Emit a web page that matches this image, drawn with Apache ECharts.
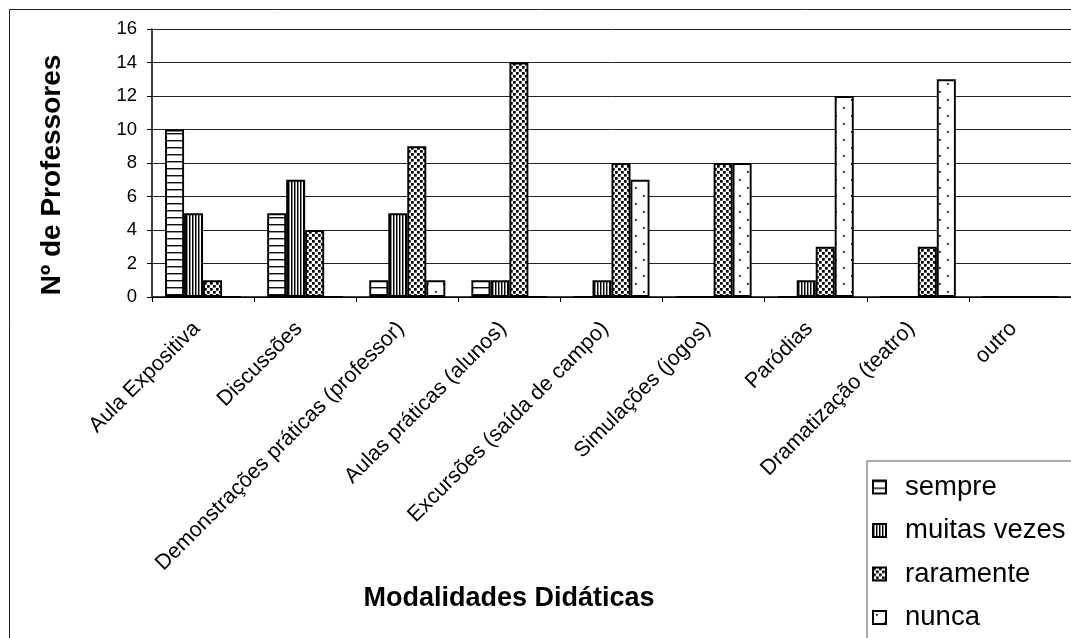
<!DOCTYPE html>
<html>
<head>
<meta charset="utf-8">
<script src="https://cdn.jsdelivr.net/npm/echarts@6/dist/echarts.min.js"></script>
<style>
  html, body { margin: 0; padding: 0; background: #fff; }
  #chart { width: 1071px; height: 638px; }
</style>
</head>
<body>
<div id="chart"></div>
<script>
// Teaching methods used by teachers, by frequency
const categories = [
  'Aula Expositiva',
  'Discussões',
  'Demonstrações práticas (professor)',
  'Aulas práticas (alunos)',
  'Excursões (saída de campo)',
  'Simulações (jogos)',
  'Paródias',
  'Dramatização (teatro)',
  'outro'
];
const seriesNames = ['sempre', 'muitas vezes', 'raramente', 'nunca'];
const sempre      = [10, 5, 1, 1, 0, 0, 0, 0, 0];
const muitasVezes = [5, 7, 5, 1, 1, 0, 1, 0, 0];
const raramente   = [1, 4, 9, 14, 8, 8, 3, 3, 0];
const nunca       = [0, 0, 1, 0, 7, 8, 12, 13, 0];
const yMin = 0, yMax = 16, yStep = 2;
const yTitle = 'Nº de Professores';
const xTitle = 'Modalidades Didáticas';

const FONT = 'Liberation Sans, Arial, Helvetica, sans-serif';

// Monochrome fill patterns for the bars
function makePattern(w, h, draw) {
  const c = document.createElement('canvas');
  c.width = w; c.height = h;
  const ctx = c.getContext('2d');
  ctx.fillStyle = '#fff';
  ctx.fillRect(0, 0, w, h);
  draw(ctx);
  return { image: c, repeat: 'repeat' };
}
const hStripes = makePattern(4, 7, ctx => {
  ctx.fillStyle = '#111'; ctx.fillRect(0, 0, 4, 1);
  ctx.fillStyle = '#999'; ctx.fillRect(0, 1, 4, 1);
});
const vStripes = makePattern(3, 4, ctx => {
  ctx.fillStyle = '#000'; ctx.fillRect(0, 0, 1, 4);
  ctx.fillStyle = '#888'; ctx.fillRect(1, 0, 1, 4);
});
const bigDots = makePattern(6, 6, ctx => {
  ctx.fillStyle = '#000';
  ctx.fillRect(0, 0, 2.7, 2.7);
  ctx.fillRect(3, 3, 2.7, 2.7);
});
const smallDots = makePattern(16, 16, ctx => {
  ctx.fillStyle = '#000';
  ctx.fillRect(3, 3, 1.7, 1.7);
  ctx.fillRect(11, 11, 1.7, 1.7);
});

const fills = [hStripes, vStripes, bigDots, smallDots];
const values = [sempre, muitasVezes, raramente, nunca];

const chart = echarts.init(document.getElementById('chart'), null, { renderer: 'canvas' });

chart.setOption({
  animation: false,
  backgroundColor: '#fff',
  grid: { left: 152, top: 29, width: 931, height: 268, containLabel: false },
  xAxis: {
    type: 'category',
    data: categories,
    boundaryGap: true,
    axisLine: { lineStyle: { color: '#000', width: 1.5 } },
    axisTick: { show: true, length: 5, inside: false, alignWithLabel: false, lineStyle: { color: '#000', width: 1 } },
    axisLabel: {
      interval: 0, rotate: 45, margin: 22, color: '#000',
      fontFamily: FONT, fontSize: 21.5, padding: [0, 9, 0, 0]
    },
    splitLine: { show: false }
  },
  yAxis: {
    type: 'value',
    min: yMin, max: yMax, interval: yStep,
    axisLine: { show: true, lineStyle: { color: '#000', width: 1.5 } },
    axisTick: { show: true, length: 5, lineStyle: { color: '#000', width: 1 } },
    axisLabel: { margin: 15, color: '#000', fontFamily: FONT, fontSize: 18.5 },
    splitLine: { show: true, lineStyle: { color: '#222', width: 1 } }
  },
  legend: {
    orient: 'vertical',
    left: 867, top: 461,
    width: 260, height: 240,
    icon: 'rect',
    itemWidth: 13, itemHeight: 13,
    itemGap: 13.5,
    padding: [11, 40, 30, 5],
    borderColor: '#555', borderWidth: 1,
    backgroundColor: '#fff',
    textStyle: { color: '#000', fontFamily: FONT, fontSize: 27.5, lineHeight: 30, padding: [0, 0, 0, 14] },
    data: seriesNames
  },
  graphic: [
    {
      type: 'rect', z: -10, silent: true,
      shape: { x: 9.5, y: 9.5, width: 1200, height: 1000 },
      style: { fill: 'none', stroke: '#222', lineWidth: 1 }
    },
    {
      type: 'text', x: 52, y: 175, rotation: Math.PI / 2,
      style: { text: yTitle, font: 'bold 28px ' + FONT, fill: '#000', textAlign: 'center', textVerticalAlign: 'middle' }
    },
    {
      type: 'text', x: 509, y: 599,
      style: { text: xTitle, font: 'bold 27px ' + FONT, fill: '#000', textAlign: 'center', textVerticalAlign: 'middle' }
    }
  ],
  series: seriesNames.map((name, i) => ({
    name: name,
    type: 'bar',
    data: values[i],
    barWidth: 19,
    barGap: '0%',
    itemStyle: { color: fills[i], borderColor: '#000', borderWidth: 1.9 },
    emphasis: { disabled: true }
  }))
});
</script>
</body>
</html>
